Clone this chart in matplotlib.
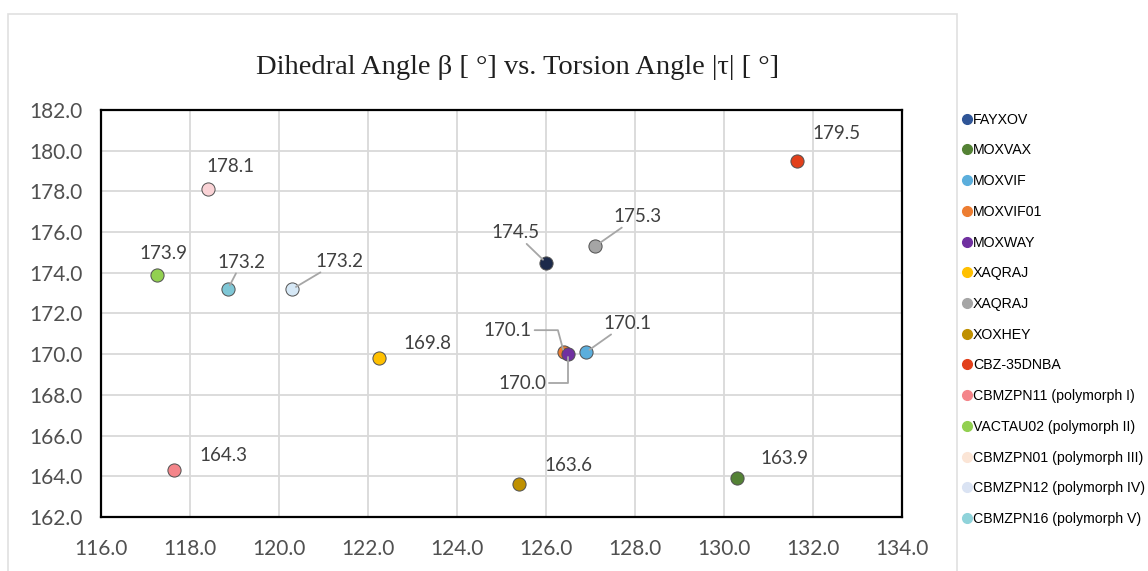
import matplotlib
matplotlib.use('Agg')
import matplotlib.pyplot as plt
from matplotlib import font_manager
from matplotlib.lines import Line2D
from matplotlib.patches import Rectangle

# data
names = ['FAYXOV', 'MOXVAX', 'MOXVIF', 'MOXVIF01', 'MOXWAY', 'XAQRAJ', 'XAQRAJ',
         'XOXHEY', 'CBZ-35DNBA', 'CBMZPN11 (polymorph I)', 'VACTAU02 (polymorph II)',
         'CBMZPN01 (polymorph III)', 'CBMZPN12 (polymorph IV)', 'CBMZPN16 (polymorph V)']
dihedral = [126.0, 130.3, 126.9, 126.4, 126.5, 122.25, 127.1, 125.4, 131.65,
            117.65, 117.25, 118.4, 120.3, 118.85]
torsion = [174.5, 163.9, 170.1, 170.1, 170.0, 169.8, 175.3, 163.6, 179.5,
           164.3, 173.9, 178.1, 173.2, 173.2]
colors = ['#1C2A4A', '#548235', '#5BAEDC', '#ED7D31', '#7030A0', '#FFC000', '#A5A5A5',
          '#BF9000', '#E2401B', '#F4858A', '#92D050', '#FAD3D6', '#D6E8F6', '#7FC7D6']
legend_colors = ['#2F5597', '#548235', '#5BAEDC', '#ED7D31', '#7030A0', '#FFC000', '#A5A5A5',
                 '#BF9000', '#E2401B', '#F4858A', '#92D050', '#FBE5D6', '#DAE3F3', '#8FD3DA']
xticks = [116, 118, 120, 122, 124, 126, 128, 130, 132, 134]
yticks = [162, 164, 166, 168, 170, 172, 174, 176, 178, 180, 182]

# label offsets in pixels (dx, dy) and leader style
offsets = [(-31, 30), (47, 20), (41, 29), (-56, 22), (-46, -29), (48, 15), (43, 30),
           (49, 19), (39, 27), (49, 15), (7, 21), (23, 23), (47, 28), (14, 27)]
leaders = ['line', None, 'line', 'elbowA', 'elbowB', None, 'line',
           None, None, None, None, None, 'line', 'line']

avail = {f.name for f in font_manager.fontManager.ttflist}
if 'Liberation Sans Narrow' in avail:
    leg_font, leg_size, leg_space = 'Liberation Sans Narrow', 12.3, 0.8
else:
    leg_font, leg_size, leg_space = 'Liberation Sans', 10.2, 1.18
num_font = 'Lato' if 'Lato' in avail else 'DejaVu Sans'

fig = plt.figure(figsize=(11.48, 5.71), dpi=100)
ax = fig.add_axes([101/1148, 1-517/571, 801/1148, 407/571])

for i in range(len(names)):
    ax.scatter(dihedral[i], torsion[i], s=90, color=colors[i], edgecolor='#505050',
               linewidth=0.7, zorder=3 + (1 if names[i] == 'MOXWAY' else 0))
    lt = leaders[i]
    props = None
    if lt == 'line':
        props = dict(arrowstyle='-', color='#A6A6A6', lw=1.3, shrinkA=0, shrinkB=3)
    elif lt == 'elbowA':
        props = dict(arrowstyle='-', color='#A6A6A6', lw=1.3, shrinkA=0, shrinkB=2,
                     relpos=(1, 0.5), connectionstyle='angle,angleA=0,angleB=105,rad=0')
    elif lt == 'elbowB':
        props = dict(arrowstyle='-', color='#A6A6A6', lw=1.3, shrinkA=0, shrinkB=2,
                     relpos=(1, 0.5), connectionstyle='angle,angleA=0,angleB=90,rad=0')
    ax.annotate('%.1f' % torsion[i], (dihedral[i], torsion[i]), xytext=offsets[i],
                textcoords='offset pixels', ha='center', va='center', fontsize=13.5,
                family=num_font, color='#404040', arrowprops=props, zorder=5)

ax.set_xlim(116, 134)
ax.set_ylim(162, 182)
ax.set_xticks(xticks)
ax.set_yticks(yticks)
ax.set_xticklabels(['%.1f' % v for v in xticks])
ax.set_yticklabels(['%.1f' % v for v in yticks])
ax.tick_params(length=0, labelsize=15, labelcolor='#505050')
ax.tick_params(axis='y', pad=13)
ax.tick_params(axis='x', pad=16)
for lab in ax.get_xticklabels() + ax.get_yticklabels():
    lab.set_family(num_font)
ax.grid(True, color='#D9D9D9', lw=1.3)
ax.set_axisbelow(True)
for sp in ax.spines.values():
    sp.set_color('black')
    sp.set_linewidth(1.6)

fig.text(518/1148, 1-67/571, 'Dihedral Angle β [ °] vs. Torsion Angle |τ| [ °]',
         ha='center', va='center', fontsize=20.5, family='Liberation Serif', color='#1F1F1F')

# light outer chart border
fig.patches.append(Rectangle((8/1148, -0.1), 949/1148, 1.1 - 14/571, transform=fig.transFigure,
                             fill=False, edgecolor='#E0E0E0', lw=1.2))

handles = [Line2D([], [], ls='none', marker='o', ms=7, color=c, mec=c) for c in legend_colors]
fig.legend(handles, names, loc='upper left', bbox_to_anchor=(958/1148, 1-107/571),
           frameon=False, handlelength=0.5, handletextpad=0.15, labelspacing=leg_space,
           prop={'family': leg_font, 'size': leg_size}, borderaxespad=0)

fig.savefig('out.png', dpi=100)
